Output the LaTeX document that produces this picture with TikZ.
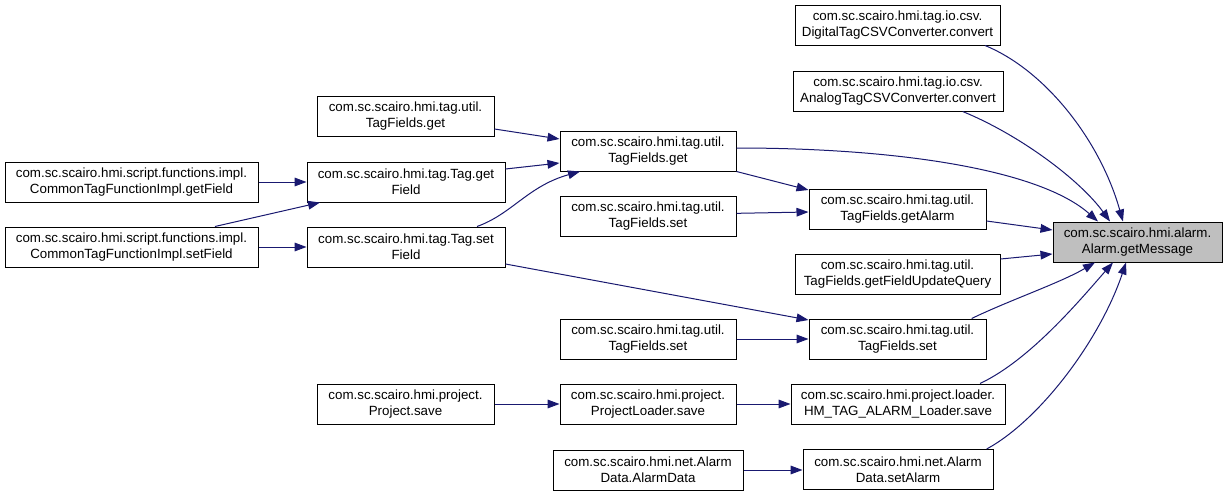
\documentclass[tikz,border=0pt]{standalone}
\usepackage{fontspec}
\setmainfont{Liberation Sans}
\usetikzlibrary{arrows.meta}
\definecolor{edgeblue}{HTML}{191970}
\definecolor{boxgray}{HTML}{BFBFBF}
\begin{document}
\begin{tikzpicture}[x=0.75pt,y=-0.75pt,
  fn/.style={draw=black, line width=0.75pt, fill=white, minimum height=30pt, inner sep=0pt, align=center, font=\fontsize{10}{12}\selectfont},
  wd/.style={minimum width=#1*0.75pt},
  cl/.style={draw=edgeblue, line width=0.75pt, -{Triangle[length=9pt,width=6.5pt]}, fill=none}]
\fill[white] (0,0) rectangle (1228,496);
\useasboundingbox (0,0) rectangle (1228,496);
% right target
\node[fn, wd=169, fill=boxgray] (msg) at (1137.5,242) {com.sc.scairo.hmi.alarm.\\Alarm.getMessage};
% column 4
\node[fn, wd=205] (dig) at (897.5,25) {com.sc.scairo.hmi.tag.io.csv.\\DigitalTagCSVConverter.convert};
\node[fn, wd=210] (ana) at (898,91) {com.sc.scairo.hmi.tag.io.csv.\\AnalogTagCSVConverter.convert};
\node[fn, wd=177] (getAlarm) at (897.5,209) {com.sc.scairo.hmi.tag.util.\\TagFields.getAlarm};
\node[fn, wd=205] (fuq) at (897.5,274) {com.sc.scairo.hmi.tag.util.\\TagFields.getFieldUpdateQuery};
\node[fn, wd=177] (setR) at (897.5,339) {com.sc.scairo.hmi.tag.util.\\TagFields.set};
\node[fn, wd=214] (hm) at (898,404) {com.sc.scairo.hmi.project.loader.\\HM\_TAG\_ALARM\_Loader.save};
\node[fn, wd=190] (setAlarm) at (898,469.5) {com.sc.scairo.hmi.net.Alarm\\Data.setAlarm};
% column 3
\node[fn, wd=176] (getM) at (648,151) {com.sc.scairo.hmi.tag.util.\\TagFields.get};
\node[fn, wd=176] (setM1) at (648,216) {com.sc.scairo.hmi.tag.util.\\TagFields.set};
\node[fn, wd=176] (setM2) at (648,339) {com.sc.scairo.hmi.tag.util.\\TagFields.set};
\node[fn, wd=176] (ploader) at (648,404) {com.sc.scairo.hmi.project.\\ProjectLoader.save};
\node[fn, wd=190] (alarmData) at (648,470) {com.sc.scairo.hmi.net.Alarm\\Data.AlarmData};
% column 2
\node[fn, wd=177] (getL) at (405.5,116) {com.sc.scairo.hmi.tag.util.\\TagFields.get};
\node[fn, wd=198] (tagGet) at (406,182) {com.sc.scairo.hmi.tag.Tag.get\\Field};
\node[fn, wd=198] (tagSet) at (406,247) {com.sc.scairo.hmi.tag.Tag.set\\Field};
\node[fn, wd=177] (psave) at (405.5,404) {com.sc.scairo.hmi.project.\\Project.save};
% column 1
\node[fn, wd=253] (ctGet) at (131.5,182) {com.sc.scairo.hmi.script.functions.impl.\\CommonTagFunctionImpl.getField};
\node[fn, wd=253] (ctSet) at (131.5,247) {com.sc.scairo.hmi.script.functions.impl.\\CommonTagFunctionImpl.setField};
% edges into target
\draw[cl] ([xshift=65.6pt]dig.south) .. controls (1045,70) and (1100,140) .. ([xshift=-10.9pt]msg.north);
\draw[cl] ([xshift=48.5pt]ana.south) .. controls (1020,135) and (1080,180) .. ([xshift=-20.6pt]msg.north);
\draw[cl] ([yshift=2.25pt]getM.east) .. controls (900,148) and (1040,170) .. ([xshift=-29.6pt]msg.north);
\draw[cl] ([yshift=-9pt]getAlarm.east) -- ([yshift=9pt]msg.west);
\draw[cl] ([yshift=11.25pt]fuq.east) -- ([yshift=-9pt]msg.west);
\draw[cl] ([xshift=55.6pt]setR.north) .. controls (1010,300) and (1060,283) .. ([xshift=-31.9pt]msg.south);
\draw[cl] ([xshift=61.5pt]hm.north) .. controls (1030,360) and (1080,300) .. ([xshift=-18.4pt]msg.south);
\draw[cl] ([xshift=66.5pt]setAlarm.north) .. controls (1040,420) and (1100,340) .. ([xshift=-8.6pt]msg.south);
% column 3 -> column 4
\draw[cl] (getM.south east) -- ([yshift=14.25pt]getAlarm.west);
\draw[cl] ([yshift=2pt]setM1.east) -- ([yshift=-2.25pt]getAlarm.west);
\draw[cl] (setM2.east) -- (setR.west);
\draw[cl] (ploader.east) -- (hm.west);
\draw[cl] (alarmData.east) -- (setAlarm.west |- alarmData.east);
% column 2 -> column 3/4
\draw[cl] ([yshift=-9.75pt]getL.east) -- ([yshift=9pt]getM.west);
\draw[cl] ([yshift=9.75pt]tagGet.east) -- ([yshift=-9pt]getM.west);
\draw[cl] ([xshift=53.25pt]tagSet.north) .. controls (512,214) and (528,186) .. ([xshift=-51pt]getM.south);
\draw[cl] ([yshift=-12.75pt]tagSet.east) -- ([yshift=14.25pt]setR.west);
\draw[cl] (psave.east) -- (ploader.west);
% column 1 -> column 2
\draw[cl] (ctGet.east) -- (tagGet.west);
\draw[cl] ([xshift=62.6pt]ctSet.north) -- ([xshift=-64.5pt]tagGet.south);
\draw[cl] (ctSet.east) -- (tagSet.west);
\end{tikzpicture}
\end{document}
